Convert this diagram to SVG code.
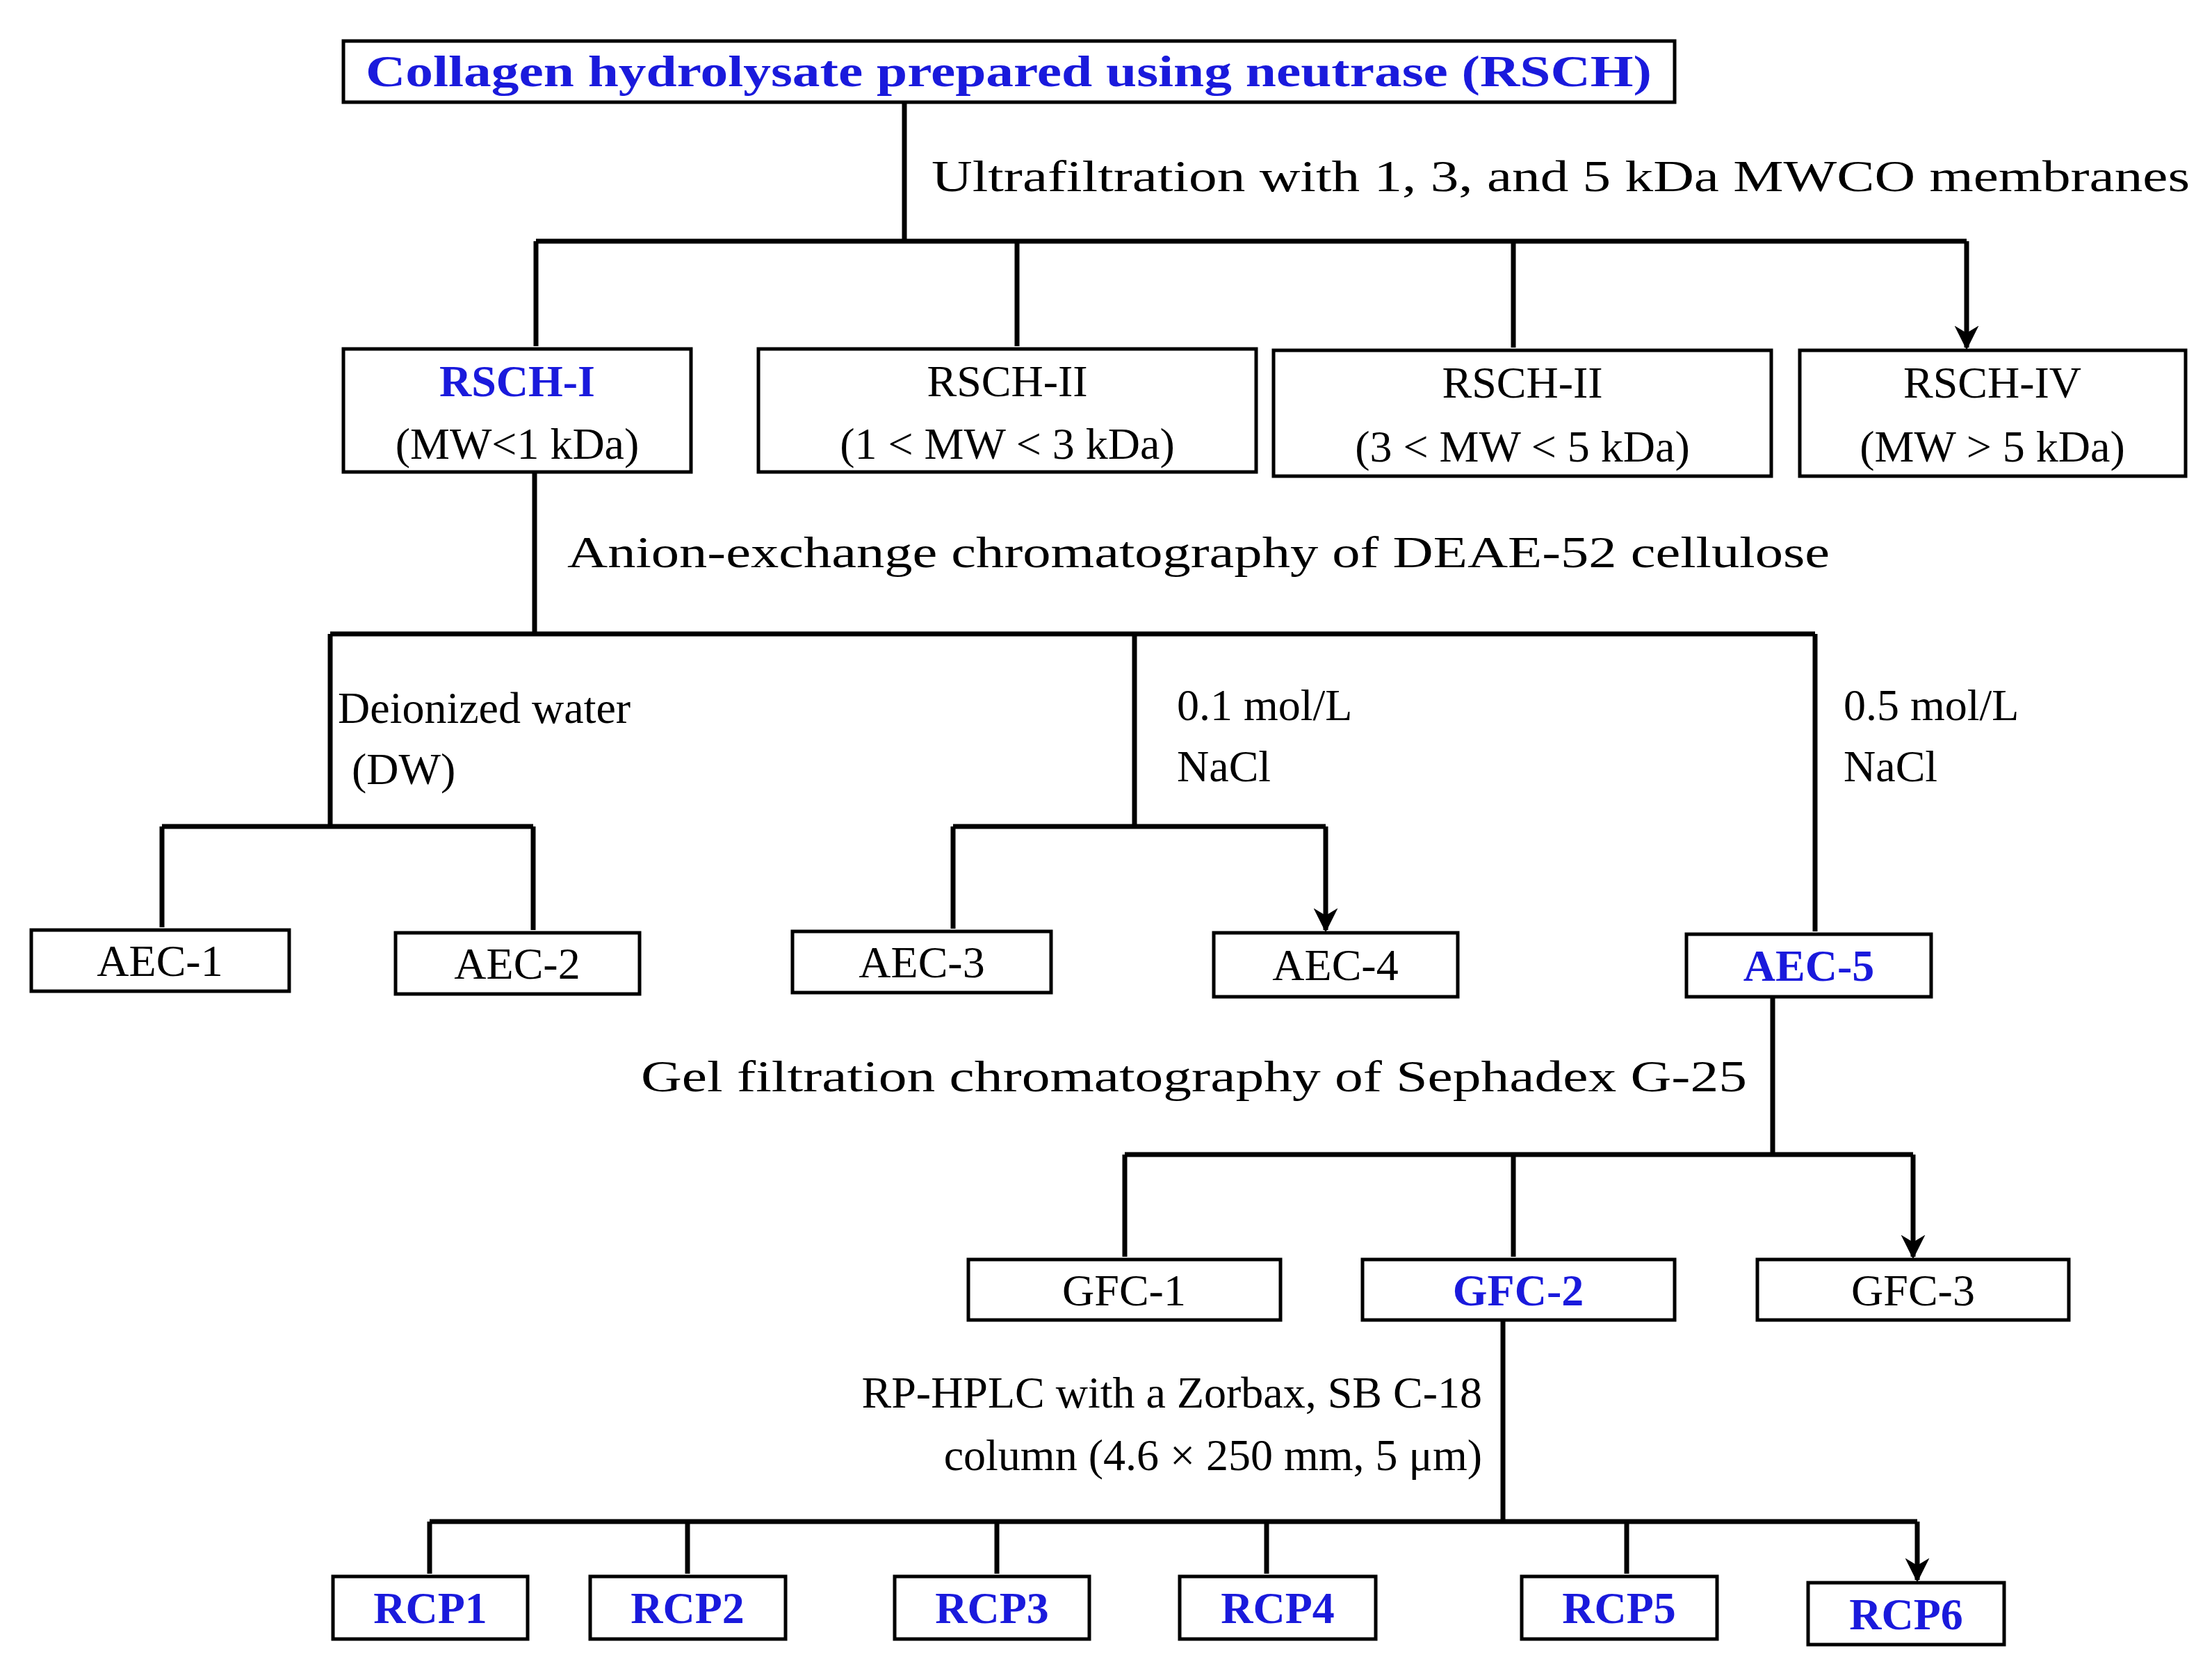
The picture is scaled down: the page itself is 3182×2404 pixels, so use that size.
<svg xmlns="http://www.w3.org/2000/svg" width="3182" height="2404" viewBox="0 0 3182 2404">
<style>
.b{fill:#fff;stroke:#000;stroke-width:5}
.t{font-family:"Liberation Serif",serif;font-size:64px;fill:#000}
.c{text-anchor:middle}
.bl{fill:#1a1adc;font-weight:bold}
.l{fill:none;stroke:#000;stroke-width:7}
.a{marker-end:url(#ar)}
</style>
<defs><marker id="ar" viewBox="0 0 10 10" refX="9" refY="5" markerWidth="5" markerHeight="5" markerUnits="strokeWidth" orient="auto"><path d="M0,0L10,5L0,10L3,5z" fill="#000"/></marker></defs>
<rect width="3182" height="2404" fill="#fff"/>
<g id="connectors">
<path class="l" d="M1301,147V347M771,347H2829"/>
<path class="l a" d="M771,347V498M1463,347V498M2177,347V500M2829,347V500"/>
<path class="l" d="M769,679V912M475,912H2611M475,912V1189M1632,912V1189M233,1189H767M1371,1189H1907"/>
<path class="l a" d="M2611,912V1340M233,1189V1334M767,1189V1338M1371,1189V1336M1907,1189V1338"/>
<path class="l" d="M2550,1434V1661M1618,1661H2752"/>
<path class="l a" d="M1618,1661V1808M2177,1661V1808M2752,1661V1808"/>
<path class="l" d="M2162,1899V2189M618,2189H2758"/>
<path class="l a" d="M618,2189V2264M989,2189V2264M1434,2189V2264M1822,2189V2264M2340,2189V2264M2758,2189V2273"/>
</g>
<g class="t">
<text x="1340" y="275" textLength="1810" lengthAdjust="spacingAndGlyphs">Ultrafiltration  with 1, 3, and 5 kDa MWCO membranes</text>
<text x="816" y="816" textLength="1816" lengthAdjust="spacingAndGlyphs">Anion-exchange  chromatography  of DEAE-52 cellulose</text>
<text x="486" y="1040">Deionized  water</text>
<text x="506" y="1128">(DW)</text>
<text x="1693" y="1036">0.1 mol/L</text>
<text x="1693" y="1124">NaCl</text>
<text x="2652" y="1036">0.5 mol/L</text>
<text x="2652" y="1124">NaCl</text>
<text x="922" y="1570" textLength="1591" lengthAdjust="spacingAndGlyphs">Gel filtration chromatography of Sephadex G-25</text>
<text x="2132" y="2025" text-anchor="end">RP-HPLC with a Zorbax, SB C-18</text>
<text x="2132" y="2115" text-anchor="end">column (4.6 × 250 mm, 5 μm)</text>
</g>
<g id="n0"><rect class="b" x="494" y="59" width="1915" height="88"/><text class="t c bl" x="1451" y="124" textLength="1850" lengthAdjust="spacingAndGlyphs">Collagen hydrolysate prepared using neutrase (RSCH)</text></g>
<g id="n1"><rect class="b" x="494" y="502" width="500" height="177"/><text class="t c bl" x="744" y="570">RSCH-I</text><text class="t c" x="744" y="660">(MW&lt;1 kDa)</text></g>
<g id="n2"><rect class="b" x="1091" y="502" width="716" height="177"/><text class="t c" x="1449" y="570">RSCH-II</text><text class="t c" x="1449" y="660">(1 &lt; MW &lt; 3 kDa)</text></g>
<g id="n3"><rect class="b" x="1832" y="504" width="716" height="181"/><text class="t c" x="2190" y="572">RSCH-II</text><text class="t c" x="2190" y="664">(3 &lt; MW &lt; 5 kDa)</text></g>
<g id="n4"><rect class="b" x="2589" y="504" width="555" height="181"/><text class="t c" x="2866" y="572">RSCH-IV</text><text class="t c" x="2866" y="664">(MW &gt; 5 kDa)</text></g>
<g id="a1"><rect class="b" x="45" y="1338" width="371" height="88"/><text class="t c" x="230" y="1404">AEC-1</text></g>
<g id="a2"><rect class="b" x="569" y="1342" width="351" height="88"/><text class="t c" x="744" y="1408">AEC-2</text></g>
<g id="a3"><rect class="b" x="1140" y="1340" width="372" height="88"/><text class="t c" x="1326" y="1406">AEC-3</text></g>
<g id="a4"><rect class="b" x="1746" y="1342" width="351" height="92"/><text class="t c" x="1921" y="1410">AEC-4</text></g>
<g id="a5"><rect class="b" x="2426" y="1344" width="352" height="90"/><text class="t c bl" x="2602" y="1411">AEC-5</text></g>
<g id="g1"><rect class="b" x="1393" y="1812" width="449" height="87"/><text class="t c" x="1617" y="1878">GFC-1</text></g>
<g id="g2"><rect class="b" x="1960" y="1812" width="449" height="87"/><text class="t c bl" x="2184" y="1878">GFC-2</text></g>
<g id="g3"><rect class="b" x="2528" y="1812" width="448" height="87"/><text class="t c" x="2752" y="1878">GFC-3</text></g>
<g id="r1"><rect class="b" x="479" y="2268" width="280" height="90"/><text class="t c bl" x="619" y="2335">RCP1</text></g>
<g id="r2"><rect class="b" x="849" y="2268" width="281" height="90"/><text class="t c bl" x="989" y="2335">RCP2</text></g>
<g id="r3"><rect class="b" x="1287" y="2268" width="280" height="90"/><text class="t c bl" x="1427" y="2335">RCP3</text></g>
<g id="r4"><rect class="b" x="1697" y="2268" width="282" height="90"/><text class="t c bl" x="1838" y="2335">RCP4</text></g>
<g id="r5"><rect class="b" x="2189" y="2268" width="281" height="90"/><text class="t c bl" x="2329" y="2335">RCP5</text></g>
<g id="r6"><rect class="b" x="2601" y="2277" width="282" height="89"/><text class="t c bl" x="2742" y="2344">RCP6</text></g>
</svg>
